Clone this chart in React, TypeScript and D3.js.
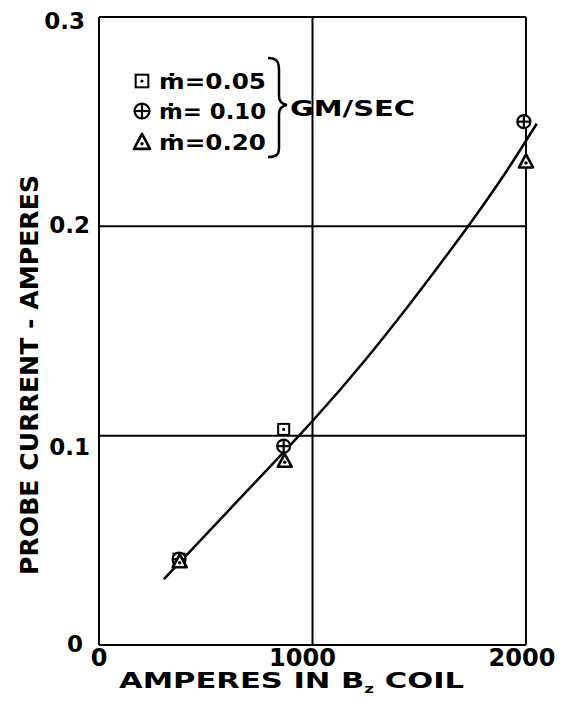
import * as d3 from 'd3';
import React from 'react';

// axis ticks
const ampTicks = [0, 1000, 2000];
const currentTicks = [0, 0.1, 0.2, 0.3];
const currentTickLabels = ['0', '0.1', '0.2', '0.3'];

const flow005Amps = [375, 865];
const flow005Current = [0.041, 0.103];
const flow010Amps = [375, 865, 1990];
const flow010Current = [0.041, 0.095, 0.25];
const flow020Amps = [378, 870, 2000];
const flow020Current = [0.04, 0.088, 0.231];

// faired curve drawn through the points
const fitAmps = [304, 600, 937, 1000, 1250, 1400, 1560, 1750, 1900, 2050];
const fitCurrent = [0.0315, 0.0635, 0.1, 0.107, 0.1365, 0.1556, 0.1769, 0.203, 0.225, 0.249];

const legendLabels = ['ṁ=0.05', 'ṁ= 0.10', 'ṁ=0.20'];
const legendUnit = 'GM/SEC';

const width = 562;
const height = 708;
const left = 99;
const right = 526;
const top = 17;
const bottom = 645;

const font = '"DejaVu Sans", sans-serif';

const Square = ({ cx, cy, s = 1 }) => (
  <g>
    <rect x={cx - 5.5 * s} y={cy - 5.5 * s} width={11 * s} height={11 * s} fill="white" stroke="black" strokeWidth={2} />
    <circle cx={cx} cy={cy} r={1.6} fill="black" />
  </g>
);

const CrossCircle = ({ cx, cy, s = 1 }) => (
  <g stroke="black" strokeWidth={2.2} fill="white">
    <circle cx={cx} cy={cy} r={6.5 * s} />
    <line x1={cx - 6.5 * s} x2={cx + 6.5 * s} y1={cy} y2={cy} />
    <line x1={cx} x2={cx} y1={cy - 6.5 * s} y2={cy + 6.5 * s} />
  </g>
);

const Triangle = ({ cx, cy, s = 1 }) => (
  <g>
    <path
      d={`M${cx},${cy - 7 * s} L${cx + 7 * s},${cy + 6 * s} L${cx - 7 * s},${cy + 6 * s} Z`}
      fill="white"
      stroke="black"
      strokeWidth={2.6}
      strokeLinejoin="round"
    />
    <circle cx={cx} cy={cy + 1.5 * s} r={1.7} fill="black" />
  </g>
);

export default function App() {
  const x = d3.scaleLinear().domain([0, 2000]).range([left, right]);
  const y = d3.scaleLinear().domain([0, 0.3]).range([bottom, top]);

  const fit = d3
    .line<number>()
    .x((d, i) => x(fitAmps[i]))
    .y((d) => y(d))
    .curve(d3.curveMonotoneX);

  const legendY = [81, 111, 142];
  const symbols = [Square, CrossCircle, Triangle];

  return (
    <svg
      width={width}
      height={height}
      style={{ position: 'absolute', left: 0, top: 0, background: 'white' }}
      fontFamily={font}
      fontWeight="bold"
    >
      {/* grid */}
      <g stroke="black" strokeWidth={2}>
        {ampTicks.map((t) => (
          <line key={'gx' + t} x1={x(t)} x2={x(t)} y1={y(0)} y2={y(0.3)} />
        ))}
        {currentTicks.map((t) => (
          <line key={'gy' + t} x1={x(0)} x2={x(2000)} y1={y(t)} y2={y(t)} />
        ))}
      </g>

      {/* tick labels */}
      <g fontSize={24} textAnchor="middle">
        {ampTicks.map((t) => (
          <text key={'tx' + t} x={x(t) - (t === 0 ? 0 : t === 1000 ? 10 : 4)} y={666}>
            {t}
          </text>
        ))}
      </g>
      <g fontSize={23} textAnchor="end">
        {currentTicks.map((t, i) => (
          <text key={'ty' + t} x={t === 0.3 ? 85 : t === 0 ? 83 : 90} y={y(t) + (t === 0.3 ? 12 : t === 0.1 ? 19 : 7)}>
            {currentTickLabels[i]}
          </text>
        ))}
      </g>

      {/* axis titles */}
      <text x={119} y={688} fontSize={22} textLength={345} lengthAdjust="spacingAndGlyphs">
        AMPERES IN  B
        <tspan fontSize={12} dy={5}>z</tspan>
        <tspan dy={-5}>  COIL</tspan>
      </text>
      <text
        transform={`translate(38,375) rotate(-90)`}
        textAnchor="middle"
        fontSize={25}
        textLength={400}
        lengthAdjust="spacingAndGlyphs"
      >
        PROBE CURRENT - AMPERES
      </text>

      {/* faired curve */}
      <path d={fit(fitCurrent) ?? ''} fill="none" stroke="black" strokeWidth={2.5} />

      {/* data points */}
      {flow005Amps.map((a, i) => (
        <Square key={'s' + i} cx={x(a)} cy={y(flow005Current[i])} />
      ))}
      {flow010Amps.map((a, i) => (
        <CrossCircle key={'c' + i} cx={x(a)} cy={y(flow010Current[i])} />
      ))}
      {flow020Amps.map((a, i) => (
        <Triangle key={'t' + i} cx={x(a)} cy={y(flow020Current[i])} />
      ))}

      {/* legend */}
      {legendLabels.map((lbl, i) => {
        const Sym = symbols[i];
        return (
          <g key={'lg' + i}>
            <Sym cx={142} cy={legendY[i]} s={1.15} />
            <text x={159} y={legendY[i] + 8} fontSize={22} textLength={107} lengthAdjust="spacingAndGlyphs">
              {lbl}
            </text>
          </g>
        );
      })}
      <path
        d="M268,58 C277,58 279,62 279,70 L279,96 C279,101 281,104 287,105 C281,106 279,109 279,114 L279,148 C279,154 277,157 268,157"
        fill="none"
        stroke="black"
        strokeWidth={2.5}
      />
      <text x={290} y={116} fontSize={22} textLength={125} lengthAdjust="spacingAndGlyphs">
        {legendUnit}
      </text>
    </svg>
  );
}
